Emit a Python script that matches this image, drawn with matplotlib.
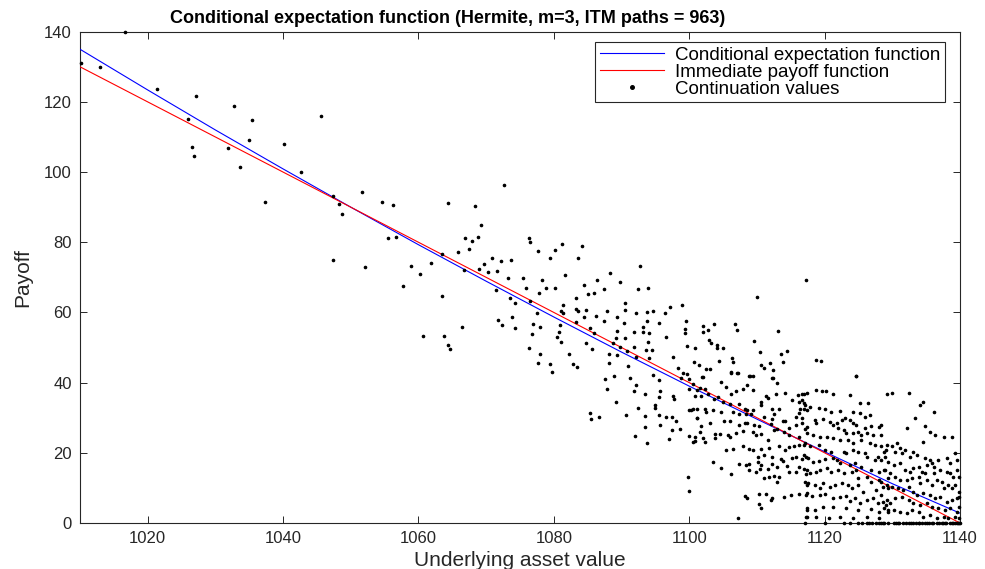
import matplotlib
matplotlib.use("Agg")
import matplotlib.pyplot as plt

plt.rcParams['font.family'] = ['Liberation Sans', 'DejaVu Sans']

# ---------------- data ----------------
title_text = "Conditional expectation function (Hermite, m=3, ITM paths = 963)"
x_label = "Underlying asset value"
y_label = "Payoff"
legend_labels = ["Conditional expectation function", "Immediate payoff function", "Continuation values"]

x_ticks = [1020, 1040, 1060, 1080, 1100, 1120, 1140]
y_ticks = [0, 20, 40, 60, 80, 100, 120, 140]

# fitted curve and payoff evaluated on a grid of underlying values
grid_s = [1010, 1020, 1030, 1040, 1050, 1060, 1070, 1080, 1090, 1100, 1110, 1120, 1130, 1140]
cond_expectation = [135.0, 123.4, 112.0, 100.9, 90.0, 79.3, 68.9, 58.7, 48.7, 39.0, 29.6, 20.3, 11.2, 2.8]
immediate_payoff = [130, 120, 110, 100, 90, 80, 70, 60, 50, 40, 30, 20, 10, 0]

# continuation values (underlying, value)
cont_left = [
    (1016.6, 140.0), (1010.1, 131.1), (1013.0, 130.0), (1021.4, 123.8), (1027.1, 121.6),
    (1025.9, 115.0), (1026.6, 107.2), (1026.8, 104.6), (1032.7, 118.7), (1035.4, 114.8),
    (1034.9, 109.0), (1031.9, 106.9), (1033.6, 101.5), (1037.4, 91.5), (1040.2, 107.9),
    (1042.7, 99.9), (1045.6, 116.0), (1047.4, 93.1), (1048.2, 90.9), (1048.7, 88.1),
    (1051.6, 94.3), (1054.6, 91.4), (1055.5, 81.3), (1047.4, 74.9), (1052.1, 72.9),
]
cont_mid = [
    (1056.2, 90.7), (1064.3, 91.3), (1068.4, 90.3), (1072.6, 96.4), (1069.2, 84.9), (1056.7, 81.5),
    (1066.9, 81.3), (1067.9, 80.3), (1068.8, 81.5), (1067.5, 78.0), (1065.8, 77.3), (1063.5, 76.6),
    (1058.9, 73.1), (1061.9, 74.2), (1060.3, 70.9), (1057.7, 67.4), (1063.5, 64.8), (1066.7, 72.1),
    (1069.0, 72.5), (1069.7, 73.7), (1070.2, 71.6), (1070.9, 75.6), (1072.2, 74.8), (1073.7, 74.9),
    (1071.6, 71.7), (1073.2, 69.9), (1075.4, 69.7), (1071.5, 66.4), (1073.5, 64.2), (1074.2, 62.6),
    (1075.9, 66.9), (1076.3, 81.2), (1076.5, 80.0), (1077.6, 77.4), (1079.4, 75.5), (1080.1, 77.7),
    (1081.2, 79.4), (1084.1, 78.8), (1083.6, 75.4), (1081.6, 70.7), (1078.2, 69.3), (1078.9, 66.9),
    (1080.2, 67.0), (1077.8, 65.6), (1076.5, 63.3), (1077.5, 59.7), (1073.8, 58.7), (1071.7, 57.8),
    (1072.4, 56.5), (1074.2, 55.5), (1076.9, 56.6), (1077.9, 55.8), (1076.7, 53.8), (1076.3, 49.9),
    (1077.9, 48.1), (1077.7, 45.7), (1079.4, 45.4), (1066.5, 55.8), (1060.6, 53.4), (1063.7, 53.2),
    (1064.3, 50.7), (1064.7, 49.7), (1081.3, 62.0), (1081.0, 60.3), (1081.3, 59.7), (1083.2, 64.1),
    (1083.3, 60.9), (1083.5, 60.5), (1084.7, 60.7), (1084.4, 67.8), (1085.1, 65.2), (1086.0, 65.5),
    (1086.4, 69.2), (1087.4, 66.7), (1088.3, 71.2), (1089.8, 68.7), (1092.8, 73.1), (1092.5, 66.7),
    (1093.9, 67.0), (1083.3, 57.3), (1080.9, 56.5), (1080.7, 54.4), (1080.4, 53.1), (1081.0, 51.6),
    (1082.2, 48.1), (1082.9, 45.2), (1083.4, 44.4), (1084.5, 58.8), (1085.3, 55.6), (1086.3, 59.1),
    (1086.0, 54.2), (1084.7, 51.2), (1085.7, 49.6), (1087.8, 60.5), (1089.3, 58.8), (1090.5, 62.6),
    (1090.5, 60.7), (1092.1, 59.9), (1090.3, 56.9), (1087.4, 57.5), (1089.3, 54.6), (1089.2, 52.8),
    (1090.5, 52.8), (1091.9, 54.5), (1093.1, 54.5), (1094.0, 54.0), (1093.7, 57.5), (1093.8, 60.0),
    (1094.7, 60.5), (1096.4, 59.7), (1097.2, 61.5), (1095.5, 57.0), (1093.2, 55.9), (1093.9, 51.6),
    (1091.9, 50.2), (1090.8, 48.9), (1089.8, 50.1), (1088.7, 51.2), (1089.3, 47.9), (1088.1, 48.3),
    (1088.1, 45.6), (1090.9, 44.8), (1092.1, 47.3), (1093.6, 49.2), (1094.5, 49.3), (1094.0, 47.0),
    (1096.5, 52.9), (1097.6, 47.2), (1098.4, 44.1),
]
cont_center = [
    (1079.7, 43.1), (1087.5, 40.9), (1088.9, 41.8), (1091.2, 41.3), (1092.2, 39.3), (1087.9, 38.2),
    (1091.8, 37.7), (1093.5, 36.7), (1089.2, 34.4), (1085.3, 31.4), (1085.5, 29.7), (1086.6, 30.2),
    (1090.6, 30.8), (1092.4, 32.8), (1093.4, 30.5), (1093.5, 27.3), (1092.0, 24.9), (1093.7, 22.9),
    (1094.7, 42.1), (1095.5, 40.7), (1095.7, 37.7), (1095.5, 35.8), (1095.0, 33.5), (1095.0, 32.9),
    (1095.5, 30.9), (1095.7, 27.8), (1096.5, 30.2), (1097.4, 30.2), (1098.1, 29.0), (1097.5, 26.4),
    (1098.6, 26.8), (1097.0, 24.0), (1097.6, 36.2), (1097.8, 35.4), (1099.1, 42.7), (1099.7, 42.5),
    (1098.8, 41.3), (1099.9, 40.9), (1100.0, 38.3), (1100.8, 36.2), (1100.0, 32.2), (1100.3, 32.2),
    (1101.1, 29.8), (1099.9, 24.8), (1100.8, 23.4), (1099.8, 13.0), (1099.9, 9.0),
    (1099.0, 62.0), (1099.5, 57.5), (1099.4, 55.4), (1099.4, 54.2), (1099.6, 50.5), (1100.8, 49.9),
    (1102.0, 56.1), (1102.7, 54.9), (1103.7, 56.6), (1102.1, 54.4), (1102.9, 52.1), (1103.2, 51.4),
    (1104.1, 50.8), (1104.1, 49.9), (1105.0, 49.9), (1106.8, 56.6), (1107.0, 54.9), (1109.6, 51.9),
    (1110.0, 64.5), (1113.1, 54.7), (1110.5, 48.8), (1114.5, 49.0), (1113.6, 48.2), (1117.2, 69.3),
    (1100.7, 45.9), (1101.5, 45.0), (1104.4, 46.2), (1102.5, 43.8), (1103.0, 43.8), (1106.3, 46.9),
    (1106.4, 46.0), (1106.2, 43.1), (1107.0, 42.8), (1108.9, 41.9), (1110.6, 45.0), (1111.0, 44.2),
    (1112.0, 45.7), (1112.4, 43.7), (1113.9, 46.0), (1101.9, 41.7), (1112.4, 41.2),
    (1124.7, 42.0), (1118.7, 46.4), (1119.4, 46.2),
]
cont_low = [
    (1102.1, 41.7), (1106.2, 42.8), (1107.2, 42.8), (1109.0, 41.9), (1109.4, 41.9), (1112.3, 41.2),
    (1113.0, 40.0), (1100.6, 39.6), (1101.6, 38.4), (1102.3, 38.1), (1101.1, 37.9), (1104.7, 40.3),
    (1105.5, 38.8), (1106.2, 36.9), (1106.9, 37.7), (1107.9, 38.1), (1108.6, 39.3), (1109.4, 37.9),
    (1111.3, 36.2), (1111.6, 35.5), (1110.6, 34.6), (1112.8, 36.9), (1114.2, 37.1), (1116.0, 36.5),
    (1116.9, 36.7), (1116.2, 34.6), (1115.2, 35.0), (1113.3, 32.6), (1112.3, 32.6), (1112.5, 31.2),
    (1110.6, 33.6), (1109.4, 32.2), (1108.6, 32.2), (1108.2, 32.6), (1107.4, 33.9), (1106.0, 33.9),
    (1105.0, 34.6), (1104.2, 36.0), (1103.6, 35.2), (1102.8, 36.7), (1101.8, 36.2), (1101.2, 32.4),
    (1100.6, 32.6), (1102.3, 32.6), (1102.5, 31.7), (1103.5, 32.2), (1104.7, 31.7), (1106.4, 31.7),
    (1107.4, 31.0), (1108.4, 31.0), (1109.1, 31.2), (1111.1, 30.3), (1112.3, 29.5), (1113.8, 29.1),
    (1114.2, 29.1), (1115.7, 30.3), (1116.7, 29.8), (1117.4, 32.2), (1116.9, 34.1), (1116.4, 32.6),
    (1116.2, 31.4), (1101.1, 29.8), (1103.0, 28.6), (1105.2, 29.1), (1106.0, 29.1), (1107.4, 27.9),
    (1108.2, 28.4), (1108.6, 28.6), (1109.6, 27.9), (1110.3, 27.6), (1113.0, 26.9), (1112.1, 28.1),
    (1114.7, 27.2), (1115.7, 27.9), (1116.7, 28.4), (1117.4, 27.4), (1101.8, 27.6), (1101.6, 26.0),
    (1100.8, 24.6), (1102.1, 24.1), (1103.8, 25.5), (1104.5, 25.5), (1105.7, 25.0), (1106.0, 24.6),
    (1106.9, 25.7), (1107.9, 26.3), (1109.4, 26.0), (1109.9, 25.0), (1110.6, 25.5), (1111.6, 23.6),
    (1112.5, 26.5), (1114.0, 26.0), (1114.7, 25.0), (1116.2, 24.6), (1117.4, 25.7), (1100.6, 23.1),
    (1102.3, 23.1), (1103.8, 24.1), (1105.5, 20.8), (1106.4, 21.0), (1107.9, 21.9), (1108.9, 21.2),
    (1109.4, 20.8), (1110.6, 21.2), (1111.8, 21.5), (1113.3, 21.9), (1114.2, 20.8), (1114.7, 21.7),
    (1115.5, 21.9), (1116.2, 22.2), (1116.9, 22.2), (1110.1, 18.9), (1111.1, 19.3), (1112.3, 18.7),
    (1113.5, 18.1), (1115.2, 18.4), (1115.7, 18.7), (1116.7, 18.1), (1117.2, 18.7), (1103.5, 17.4),
    (1104.7, 15.8), (1107.4, 16.8), (1108.4, 16.5), (1108.9, 16.8), (1110.1, 17.4), (1110.6, 16.5),
    (1111.6, 15.5), (1112.3, 16.8), (1113.0, 16.0), (1113.8, 17.7), (1114.5, 16.2), (1116.2, 16.0),
    (1116.9, 15.3), (1106.2, 13.9), (1108.9, 15.0), (1109.9, 14.6), (1111.1, 12.7), (1111.8, 13.2),
    (1112.5, 13.4), (1113.3, 13.0), (1114.7, 14.6), (1115.7, 14.6), (1117.2, 14.1), (1113.0, 11.7),
    (1110.4, 15.5), (1117.4, 10.8), (1108.2, 7.6), (1108.6, 7.0), (1110.3, 8.2), (1111.3, 8.4),
    (1112.3, 7.0), (1112.1, 6.5), (1114.0, 7.4), (1115.0, 7.9), (1116.2, 8.2), (1117.2, 7.9),
    (1110.3, 5.5), (1110.6, 4.4), (1117.4, 3.6), (1107.2, 1.3), (1117.2, 1.7),
]
cont_right = [
    (1124.7, 41.9), (1116.6, 36.8), (1117.4, 37.0), (1118.8, 37.9), (1119.6, 37.7), (1120.2, 37.7),
    (1121.3, 36.8), (1123.7, 36.5), (1125.2, 34.1), (1126.4, 34.1), (1116.6, 35.1), (1117.1, 33.6),
    (1116.9, 32.4), (1117.9, 33.0), (1119.1, 32.7), (1120.0, 32.4), (1121.0, 31.7), (1122.3, 32.0),
    (1124.2, 31.7), (1125.2, 31.3), (1125.9, 30.3), (1126.7, 30.8), (1126.9, 27.5), (1128.1, 27.3),
    (1118.6, 29.4), (1118.8, 28.4), (1119.8, 29.5), (1120.8, 28.9), (1121.3, 27.9), (1121.8, 28.6),
    (1122.5, 29.4), (1123.0, 29.8), (1123.7, 29.4), (1124.2, 28.4), (1124.7, 27.9), (1125.9, 27.0),
    (1122.0, 27.0), (1122.8, 26.5), (1123.2, 25.6), (1124.2, 25.6), (1125.0, 26.0), (1125.4, 25.1),
    (1126.2, 25.6), (1127.2, 25.1), (1128.4, 25.1), (1117.1, 26.7), (1118.3, 25.1), (1119.3, 24.6),
    (1120.3, 24.6), (1121.3, 24.1), (1122.3, 23.7), (1119.1, 22.2), (1123.5, 23.7), (1124.2, 22.9),
    (1125.4, 23.7), (1126.7, 22.9), (1127.4, 22.2), (1128.4, 21.8), (1129.1, 20.8), (1117.1, 22.7),
    (1117.8, 21.8), (1120.0, 20.8), (1121.0, 20.3), (1122.8, 20.3), (1123.2, 19.9), (1124.2, 20.8),
    (1125.0, 20.3), (1125.9, 19.9), (1126.2, 18.7), (1127.4, 18.0), (1127.9, 18.7), (1128.9, 18.7),
    (1116.9, 19.4), (1117.6, 18.4), (1118.3, 17.5), (1119.1, 17.8), (1120.0, 18.2), (1121.3, 18.4),
    (1121.8, 18.0), (1122.3, 17.0), (1123.7, 16.5), (1124.5, 17.0), (1125.4, 15.9), (1126.9, 15.1),
    (1128.1, 14.6), (1128.9, 15.1), (1117.4, 15.1), (1117.8, 14.2), (1118.8, 14.6), (1119.3, 15.1),
    (1120.3, 15.6), (1121.0, 14.6), (1122.0, 15.1), (1122.8, 14.2), (1124.0, 14.6), (1124.7, 15.1),
    (1125.0, 12.7), (1126.2, 13.2), (1126.9, 11.8), (1128.1, 12.3), (1129.4, 12.7), (1117.1, 11.8),
    (1117.6, 11.3), (1118.6, 10.8), (1119.3, 9.9), (1119.8, 11.3), (1120.8, 10.4), (1121.5, 10.8),
    (1122.5, 11.5), (1123.5, 10.8), (1124.0, 9.9), (1125.0, 10.8), (1125.7, 8.9), (1127.6, 9.4),
    (1128.6, 10.4), (1129.4, 9.9), (1117.4, 8.5), (1118.1, 7.7), (1119.3, 8.0), (1120.0, 8.3),
    (1121.3, 7.0), (1122.3, 7.5), (1123.2, 7.7), (1123.7, 6.4), (1124.5, 7.0), (1125.2, 5.6),
    (1126.2, 6.6), (1127.2, 7.0), (1127.9, 5.6), (1128.6, 6.1), (1129.1, 5.1), (1117.4, 4.2),
    (1118.6, 3.7), (1119.8, 4.7), (1121.3, 4.7), (1123.2, 4.2), (1125.0, 3.7), (1126.9, 3.9),
    (1128.1, 3.2), (1129.4, 3.7), (1117.4, 1.8), (1118.8, 1.8), (1120.6, 1.3), (1122.3, 1.8),
    (1124.2, 1.3), (1126.2, 1.6), (1128.1, 1.3),
]
cont_edge = [
    (1129.2, 36.8), (1129.9, 37.0), (1132.4, 37.1), (1134.6, 34.6), (1134.1, 33.6), (1136.1, 31.7),
    (1133.4, 29.8), (1128.4, 27.9), (1132.1, 27.0), (1134.9, 27.5), (1135.6, 26.0), (1136.3, 25.1),
    (1137.6, 24.6), (1138.8, 24.6), (1134.6, 23.2), (1129.2, 22.2), (1129.9, 21.8), (1130.7, 22.9),
    (1131.2, 21.3), (1131.9, 20.8), (1128.7, 20.3), (1130.4, 20.3), (1131.4, 19.9), (1132.6, 18.9),
    (1133.1, 20.3), (1133.6, 19.4), (1134.9, 18.4), (1135.6, 18.0), (1135.8, 17.0), (1135.1, 16.5),
    (1136.1, 16.1), (1136.8, 18.0), (1138.1, 18.4), (1138.5, 17.2), (1139.3, 19.9), (1139.5, 18.0),
    (1128.4, 18.0), (1129.4, 17.5), (1130.2, 16.5), (1131.2, 17.0), (1131.9, 15.1), (1132.6, 14.6),
    (1133.1, 15.6), (1133.9, 16.1), (1134.4, 14.6), (1134.9, 14.2), (1136.1, 14.2), (1137.1, 15.1),
    (1138.1, 14.6), (1138.5, 14.2), (1139.0, 13.2), (1139.5, 15.1), (1139.8, 13.2), (1128.7, 15.1),
    (1129.7, 14.2), (1130.4, 13.2), (1131.2, 12.3), (1132.1, 12.3), (1132.9, 12.7), (1133.9, 13.2),
    (1134.1, 11.3), (1135.1, 12.3), (1135.8, 10.8), (1136.6, 12.3), (1137.3, 11.8), (1137.6, 9.9),
    (1138.3, 10.8), (1138.8, 9.9), (1139.3, 10.8), (1139.8, 8.9), (1128.4, 11.8), (1129.2, 10.8),
    (1129.9, 10.4), (1130.9, 9.9), (1131.6, 9.4), (1132.4, 10.4), (1133.1, 8.9), (1133.6, 8.0),
    (1134.6, 8.5), (1135.6, 8.0), (1136.3, 7.0), (1137.1, 7.5), (1138.1, 6.1), (1138.8, 6.6),
    (1139.5, 7.0), (1139.9, 7.5), (1128.4, 8.0), (1129.2, 6.6), (1129.7, 5.6), (1130.4, 7.0),
    (1131.4, 7.5), (1132.4, 6.6), (1133.1, 5.6), (1134.1, 5.1), (1135.1, 5.6), (1135.8, 4.7),
    (1136.8, 4.2), (1137.8, 3.7), (1138.5, 4.2), (1139.5, 3.2), (1139.9, 4.7), (1128.7, 4.2),
    (1129.4, 3.2), (1130.2, 3.7), (1131.2, 3.2), (1132.1, 2.8), (1132.9, 3.7), (1133.9, 3.2),
    (1134.6, 1.8), (1135.6, 2.3), (1136.6, 1.3), (1137.6, 1.8), (1138.3, 1.3), (1139.3, 1.8),
    (1139.9, 1.3),
]
# paths whose discounted continuation value is zero
cont_zero_s = [
    1117.1, 1120.1, 1122.8, 1123.7, 1125.0, 1125.5, 1126.2, 1126.5, 1127.0, 1127.6, 1128.0, 1128.4,
    1128.6, 1128.7, 1129.4, 1130.2, 1130.5, 1130.9, 1131.0, 1131.6, 1132.0, 1132.4, 1132.8, 1133.1,
    1133.5, 1133.9, 1134.0, 1134.4, 1134.8, 1135.1, 1135.4, 1135.8, 1136.0, 1136.6, 1136.9, 1137.3,
    1137.5, 1137.8, 1138.0, 1138.5, 1138.8, 1139.0, 1139.3, 1139.6, 1139.7, 1139.9, 1140.0,
]

# ---------------- figure ----------------
fig = plt.figure(figsize=(9.85, 5.69), dpi=100)
ax = fig.add_axes([80 / 985, 1 - 523 / 569, 880 / 985, (523 - 31.7) / 569])

ax.plot(grid_s, cond_expectation, color='#0000ff', lw=0.8, label=legend_labels[0], zorder=3)
ax.plot(grid_s, immediate_payoff, color='#ff0000', lw=0.8, label=legend_labels[1], zorder=3)

all_pts = cont_left + cont_mid + cont_center + cont_low + cont_right + cont_edge
pts_s = [p[0] for p in all_pts] + cont_zero_s
pts_v = [p[1] for p in all_pts] + [0.0] * len(cont_zero_s)
ax.plot(pts_s, pts_v, linestyle='none', marker='.', color='k', markersize=3.2,
        label=legend_labels[2], zorder=4, clip_on=False)

ax.set_xlim(1010, 1140)
ax.set_ylim(0, 140)
ax.set_xticks(x_ticks)
ax.set_yticks(y_ticks)
ax.tick_params(direction='in', top=True, right=True, length=5, width=0.7,
               labelsize=12, colors='#262626', pad=6)
for sp in ax.spines.values():
    sp.set_color('#262626')
    sp.set_linewidth(0.8)

ax.set_title(title_text, fontsize=13, fontweight='bold', pad=6, x=(448 - 80) / 880)
ax.set_xlabel(x_label, fontsize=15, color='#262626', labelpad=3)
ax.set_ylabel(y_label, fontsize=15, color='#262626', labelpad=8)

leg = ax.legend(loc='upper right', bbox_to_anchor=(945 / 985, 1 - 41.7 / 569),
                bbox_transform=fig.transFigure, borderaxespad=0, fontsize=13.5,
                frameon=True, fancybox=False, edgecolor='#262626', framealpha=1,
                handlelength=3.4, handletextpad=0.6, labelspacing=0.0,
                borderpad=0.25, markerscale=1.6)
leg.get_frame().set_linewidth(0.8)

fig.savefig('out.png', dpi=100, facecolor='white')
